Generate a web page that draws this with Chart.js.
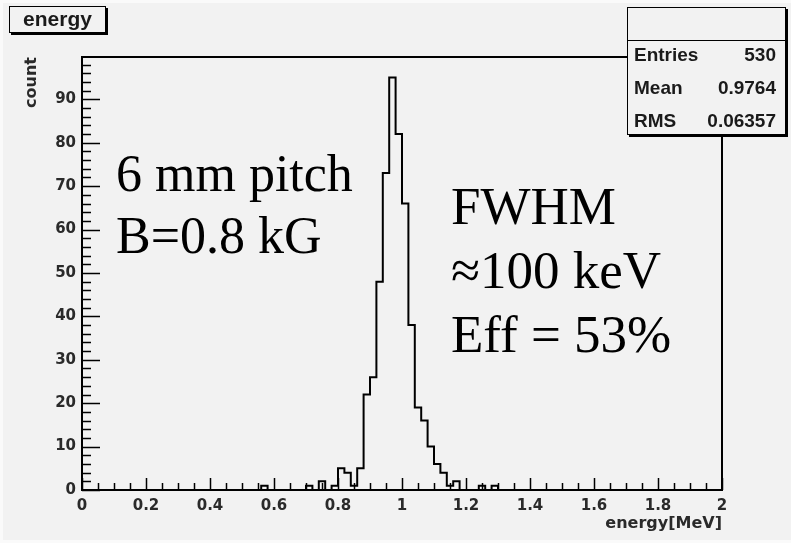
<!DOCTYPE html>
<html>
<head>
<meta charset="utf-8">
<title>energy</title>
<script src="https://cdn.jsdelivr.net/npm/chart.js@4.4.1/dist/chart.umd.min.js"></script>
<style>
    html, body { margin: 0; padding: 0; background: #fafafa; }
    #wrap { position: relative; width: 791px; height: 543px; overflow: hidden; }
    #pad { position: absolute; left: 3px; top: 3px; width: 788px; height: 537px; background: #f2f2f2; }
    #chartBox { position: absolute; left: 0; top: 0; width: 791px; height: 543px; }
    .rootBox {
        position: absolute; background: #f2f2f2; border: 1.5px solid #000;
        box-shadow: 2px 2px 0 #000; box-sizing: border-box;
        font-family: "Liberation Sans", Arial, sans-serif; font-weight: bold; color: #1a1a1a;
    }
    #titleBox { left: 9px; top: 6px; width: 97px; height: 27px; font-size: 21px; line-height: 23px; text-align: center; }
    #statsBox { left: 627px; top: 7px; width: 159px; height: 128px; font-size: 19px; }
    #statsBox .head { height: 32px; border-bottom: 1.5px solid #000; }
    #statsBox .row { position: absolute; left: 6px; right: 9px; height: 33px; line-height: 33px; }
    #statsBox .row span:last-child { float: right; }
    .note { position: absolute; font-family: "Liberation Serif", "Times New Roman", serif; color: #000; white-space: nowrap; }
</style>
</head>
<body>
<div id="wrap">
    <div id="pad"></div>
    <div id="chartBox"><canvas id="energyChart"></canvas></div>
    <div id="titleBox" class="rootBox">energy</div>
    <div id="statsBox" class="rootBox">
        <div class="head"></div>
        <div class="row" style="top:30px"><span>Entries</span><span id="sEntries"></span></div>
        <div class="row" style="top:63px"><span>Mean</span><span id="sMean"></span></div>
        <div class="row" style="top:96px"><span>RMS</span><span id="sRms"></span></div>
    </div>
    <div class="note" style="left:116px; top:143px; font-size:52px; line-height:62px;">6 mm pitch<br>B=0.8 kG</div>
    <div class="note" style="left:451px; top:174px; font-size:53px; line-height:64px;">FWHM<br>≈100 keV<br>Eff = 53%</div>
</div>

<script>
// ===================================
// energy histogram (ROOT style)
// ===================================

// Histogram binning: 100 bins between 0 and 2 MeV
const xMin = 0;
const xMax = 2;
const binWidth = 0.02;

// Bin contents (bin 0 = [0.00, 0.02))
const counts = [
    0, 0, 0, 0, 0, 0, 0, 0, 0, 0,
    0, 0, 0, 0, 0, 0, 0, 0, 0, 0,
    0, 0, 0, 0, 0, 0, 0, 0, 1, 0,
    0, 0, 0, 0, 0, 1, 0, 2, 0, 1,
    5, 4, 1, 5, 22, 26, 48, 73, 95, 82,
    66, 38, 19, 16, 10, 6, 4, 1, 2, 0,
    0, 0, 1, 0, 1, 0, 0, 0, 0, 0,
    0, 0, 0, 0, 0, 0, 0, 0, 0, 0,
    0, 0, 0, 0, 0, 0, 0, 0, 0, 0,
    0, 0, 0, 0, 0, 0, 0, 0, 0, 0
];

// Stats box
const statLabels = ['Entries', 'Mean', 'RMS'];
const statValues = ['530', '0.9764', '0.06357'];

// Axis settings
const yMax = 99.75;
const xMajorStep = 0.2;
const xMinorStep = 0.05;
const yMajorStep = 10;
const yMinorStep = 2;

document.getElementById('sEntries').textContent = statValues[0];
document.getElementById('sMean').textContent = statValues[1];
document.getElementById('sRms').textContent = statValues[2];

// Step outline points: left edge of every bin, plus the right edge of the last one
const histPoints = counts.map((c, i) => ({ x: xMin + i * binWidth, y: c }));
histPoints.push({ x: xMax, y: 0 });

// ROOT draws ticks inside the frame, so do them by hand
const rootFrame = {
    id: 'rootFrame',
    afterDatasetsDraw(chart) {
        const { ctx, chartArea: a, scales: { x, y } } = chart;
        ctx.save();
        ctx.strokeStyle = '#000';
        ctx.lineWidth = 1.5;
        ctx.beginPath();
        const nx = Math.round((xMax - xMin) / xMinorStep);
        const perMajor = Math.round(xMajorStep / xMinorStep);
        for (let i = 0; i <= nx; i++) {
            const px = Math.round(x.getPixelForValue(xMin + i * xMinorStep)) + 0.5;
            const len = i % perMajor === 0 ? 12 : 7;
            ctx.moveTo(px, a.bottom);
            ctx.lineTo(px, a.bottom - len);
        }
        for (let v = 0; v <= yMax; v += yMinorStep) {
            const py = Math.round(y.getPixelForValue(v)) + 0.5;
            const len = v % yMajorStep === 0 ? 18 : 9;
            ctx.moveTo(a.left, py);
            ctx.lineTo(a.left + len, py);
        }
        ctx.stroke();
        ctx.lineWidth = 2;
        ctx.strokeRect(a.left, a.top, a.right - a.left, a.bottom - a.top);
        ctx.restore();
    }
};

Chart.defaults.font.family = '"DejaVu Sans", sans-serif';
Chart.defaults.font.weight = 'bold';
Chart.defaults.color = '#2a2a2a';

new Chart(document.getElementById('energyChart'), {
    type: 'line',
    data: {
        datasets: [{
            label: 'energy',
            data: histPoints,
            stepped: 'before',
            borderColor: '#000',
            borderWidth: 2,
            pointRadius: 0,
            fill: false
        }]
    },
    options: {
        responsive: true,
        maintainAspectRatio: false,
        animation: false,
        layout: { padding: { left: 0, top: 57, right: 69, bottom: 0 } },
        plugins: {
            legend: { display: false },
            tooltip: { enabled: false }
        },
        scales: {
            x: {
                type: 'linear',
                min: xMin,
                max: xMax,
                grid: { display: false, drawTicks: false },
                border: { display: false },
                ticks: {
                    stepSize: xMajorStep, padding: 7, maxRotation: 0,
                    font: { size: 15, weight: 'bold' },
                    callback: value => String(parseFloat(value.toFixed(2)))
                },
                title: {
                    display: true, text: 'energy[MeV]', align: 'end',
                    font: { size: 16, weight: 'bold' }, padding: { top: 0, bottom: 10 }
                },
                afterFit(s) { s.height = 53; }
            },
            y: {
                min: 0,
                max: yMax,
                grid: { display: false, drawTicks: false },
                border: { display: false },
                ticks: { stepSize: yMajorStep, includeBounds: false, padding: 6, font: { size: 15, weight: 'bold' } },
                title: {
                    display: true, text: 'count', align: 'end',
                    font: { size: 16, weight: 'bold' }, padding: { top: 22, bottom: 0 }
                },
                afterFit(s) { s.width = 82; }
            }
        }
    },
    plugins: [rootFrame]
});
</script>
</body>
</html>
